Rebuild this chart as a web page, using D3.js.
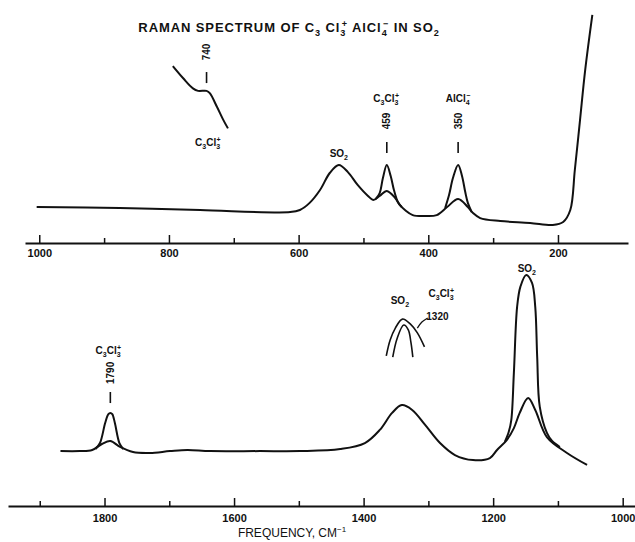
<!DOCTYPE html>
<html>
<head>
<meta charset="utf-8">
<script src="https://cdn.jsdelivr.net/npm/d3@7"></script>
<style>
  body { margin: 0; background: #fff; }
  svg text { font-family: "Liberation Sans", Arial, sans-serif; fill: #111; }
</style>
</head>
<body>
<script>
const width = 635, height = 542;

// upper panel: [wavenumber cm-1, intensity (arb.)]
const upperTrace = [[1004,15.2],[876,14.8],[752,13.9],[613,13.0],[598,13.9],[583,17.0],[567,22.6],[552,30.0],[538,33.5],[524,30.4],[509,24.8],[493,20.0],[485,18.3],[475,20.0],[464,22.2],[451,19.1],[444,16.1],[436,13.9],[424,11.7],[405,11.3],[387,11.7],[371,15.2],[354,18.7],[339,15.2],[331,12.6],[320,10.4],[289,9.1],[243,8.3],[208,7.4],[192,8.7],[181,13.9],[174,31.3],[166,53],[158,74.8],[147,98.7]];
const upperPeak459 = [[481,18.7],[475,21.3],[470,27.8],[464,33.5],[458,28.7],[453,22.6],[447,17.4],[441,15.2]];
const upperPeak350 = [[374,14.8],[368,20.4],[362,27.8],[354,33.5],[348,28.7],[343,21.7],[339,17.0],[333,13.0]];
const inset740 = [[794,76.5],[778,71.2],[763,66.8],[755,65.7],[742,65.7],[737,64.7],[726,58.8],[716,53.0],[709,49.4]];

// lower panel
const lowerTrace = [[1868,24.3],[1838,24.3],[1819,24.8],[1804,27.4],[1791,28.7],[1776,26.1],[1756,23.9],[1730,23.5],[1699,24.3],[1672,24.8],[1637,24.3],[1560,24.3],[1498,24.3],[1436,25.2],[1398,27.8],[1375,33.5],[1356,40.9],[1341,44.3],[1325,42.2],[1305,35.7],[1282,27.8],[1259,22.6],[1231,20.4],[1205,21.3],[1194,24.8],[1179,29.1],[1168,34.3],[1159,40.9],[1146,47.4],[1135,42.2],[1117,30.4],[1086,23.5],[1055,18.3]];
const lowerPeak1790 = [[1814,25.2],[1807,27.8],[1799,36.5],[1794,40.4],[1791,40.9],[1788,40.4],[1784,36.5],[1777,27.8],[1771,25.2]];
const lowerPeak1150 = [[1182,28.3],[1176,32.6],[1172,37.8],[1168,58.3],[1163,87],[1158,95.7],[1149,100.9],[1140,97.4],[1135,87],[1132,65.2],[1128,43.5],[1117,32.2],[1109,28.7],[1097,26.1]];
const inset1320outer = [[1365,65.7],[1359,72.6],[1351,77.8],[1340,81.7],[1328,79.6],[1317,75.7],[1306,69.6]];
const inset1320inner = [[1355,65.2],[1348,73.5],[1338,79.1],[1331,77.0],[1327,71.7],[1324,65.2]];
const leader1320 = [[1301,82.2],[1310,80.4],[1317,77.8]];

// axes
const upperTicks = [1000,900,800,700,600,500,400,300,200];
const upperTickLabels = [1000,800,600,400,200];
const lowerTicks = [1900,1800,1700,1600,1500,1400,1300,1200,1100,1000];
const lowerTickLabels = [1800,1600,1400,1200,1000];

// labels: parts are [text, 0 normal / -1 sub / 1 sup]
const SO2 = [["SO",0],["2",-1]];
const C3Cl3 = [["C",0],["3",-1],["Cl",0],["3",-1],["+",1]];
const AlCl4 = [["AlCl",0],["4",-1],["−",1]];
const upperNotes = [
  {parts: SO2, v: 538, i: 37},
  {parts: C3Cl3, v: 465, i: 60.9},
  {parts: AlCl4, v: 354, i: 60.9},
  {parts: C3Cl3, v: 740, i: 41.7}
];
const upperMarks = [{text:"459", v:464, i:52.6, lo:38.7, hi:43.5},
                    {text:"350", v:354, i:52.6, lo:38.7, hi:43.5},
                    {text:"740", v:742, i:82.6, lo:69.1, hi:73.9}];
const lowerNotes = [
  {parts: C3Cl3, v: 1794, i: 66.5},
  {parts: SO2, v: 1344, i: 88.3},
  {parts: C3Cl3, v: 1280, i: 91.3},
  {parts: [["1320",0]], v: 1286, i: 81.3},
  {parts: SO2, v: 1148, i: 102.2}
];
const lowerMarks = [{text:"1790", v:1791, i:58.3, lo:45.2, hi:50}];

const svg = d3.select("body").append("svg")
    .attr("width", width).attr("height", height);

const upperX = d3.scaleLinear().domain([1022, 92]).range([25, 628]);
const lowerX = d3.scaleLinear().domain([1949, 981]).range([8, 635]);
const upperY = d3.scaleLinear().domain([0, 100]).range([242, 12]);
const lowerY = d3.scaleLinear().domain([0, 100]).range([507, 277]);

function drawLine(data, x, y, w) {
    svg.append("path")
        .datum(data)
        .attr("fill", "none")
        .attr("stroke", "#111")
        .attr("stroke-width", w || 2)
        .attr("stroke-linejoin", "round")
        .attr("d", d3.line().x(d => x(d[0])).y(d => y(d[1])).curve(d3.curveCatmullRom.alpha(0.5)));
}

function chem(parts, px, py, size, spacing) {
    const t = svg.append("text")
        .attr("x", px).attr("y", py)
        .attr("text-anchor", "middle")
        .attr("font-size", size)
        .attr("font-weight", "bold")
        .attr("letter-spacing", spacing || 0);
    let cur = 0, prev = 0;
    parts.forEach(p => {
        const off = p[1] === -1 ? size*0.3 : p[1] === 1 ? -size*0.4 : 0;
        const ts = t.append("tspan").attr("dy", off - cur)
            .attr("font-size", p[1] ? size*0.7 : size)
            .text(p[0]);
        // stack superscript over preceding subscript
        if (p[1] === 1 && prev === -1) ts.attr("dx", -size*0.35);
        cur = off; prev = p[1];
    });
}

function axis(x, yPos, ticks, labels, pad) {
    const g = svg.append("g")
        .attr("transform", "translate(0," + yPos + ")")
        .call(d3.axisBottom(x).tickValues(ticks)
            .tickFormat(d => labels.includes(d) ? d : "")
            .tickSizeInner(-8).tickSizeOuter(0).tickPadding(pad));
    g.select(".domain").attr("stroke", "#111").attr("stroke-width", 1.8);
    g.selectAll(".tick line").attr("stroke", "#111").attr("stroke-width", 1.5)
        .attr("y2", d => labels.includes(d) ? -8 : -5);
    g.selectAll(".tick text").attr("font-size", 11).attr("font-weight", "bold")
        .attr("font-family", "Liberation Sans, Arial, sans-serif");
}

// upper panel
drawLine(upperTrace, upperX, upperY);
drawLine(upperPeak459, upperX, upperY);
drawLine(upperPeak350, upperX, upperY);
drawLine(inset740, upperX, upperY);
axis(upperX, 243, upperTicks, upperTickLabels, 6);

upperNotes.forEach(n => chem(n.parts, upperX(n.v), upperY(n.i), 10));
upperMarks.forEach(m => {
    svg.append("text")
        .attr("transform", "translate(" + upperX(m.v) + "," + upperY(m.i) + ") rotate(-90)")
        .attr("text-anchor", "middle").attr("dy", "0.35em")
        .attr("font-size", 10).attr("font-weight", "bold").text(m.text);
    svg.append("line")
        .attr("x1", upperX(m.v)).attr("x2", upperX(m.v))
        .attr("y1", upperY(m.lo)).attr("y2", upperY(m.hi))
        .attr("stroke", "#111").attr("stroke-width", 1.6);
});

// lower panel
drawLine(lowerTrace, lowerX, lowerY);
drawLine(lowerPeak1790, lowerX, lowerY);
drawLine(lowerPeak1150, lowerX, lowerY);
drawLine(inset1320outer, lowerX, lowerY, 1.6);
drawLine(inset1320inner, lowerX, lowerY, 1.6);
drawLine(leader1320, lowerX, lowerY, 1.3);
axis(lowerX, 506, lowerTicks, lowerTickLabels, 8);

lowerNotes.forEach(n => chem(n.parts, lowerX(n.v), lowerY(n.i), 10));
lowerMarks.forEach(m => {
    svg.append("text")
        .attr("transform", "translate(" + lowerX(m.v) + "," + lowerY(m.i) + ") rotate(-90)")
        .attr("text-anchor", "middle").attr("dy", "0.35em")
        .attr("font-size", 10).attr("font-weight", "bold").text(m.text);
    svg.append("line")
        .attr("x1", lowerX(m.v)).attr("x2", lowerX(m.v))
        .attr("y1", lowerY(m.lo)).attr("y2", lowerY(m.hi))
        .attr("stroke", "#111").attr("stroke-width", 1.6);
});

// title and axis caption
chem([["RAMAN  SPECTRUM  OF  C",0],["3",-1],[" Cl",0],["3",-1],["+",1],[" AlCl",0],["4",-1],["−",1],["  IN  SO",0],["2",-1]], 289, 32, 13, 0.9);
svg.append("text")
    .attr("x", 292).attr("y", 537)
    .attr("text-anchor", "middle").attr("font-size", 12)
    .text("FREQUENCY,  CM")
    .append("tspan").attr("dy", -5).attr("font-size", 8).text("−1");
</script>
</body>
</html>
